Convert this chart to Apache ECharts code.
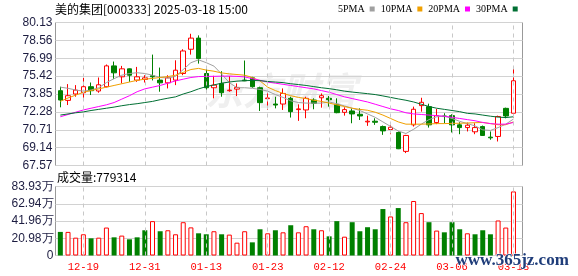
<!DOCTYPE html>
<html>
<head>
<meta charset="utf-8">
<script src="https://cdn.jsdelivr.net/npm/echarts@6/dist/echarts.min.js"></script>
<style>
html,body{margin:0;padding:0;background:#fff;}
#chart{width:578px;height:276px;}
</style>
</head>
<body>
<div id="chart"></div>
<script>
// ---------- data ----------
const dates = ['12-16','12-17','12-18','12-19','12-20','12-23','12-24','12-25','12-26','12-27',
  '12-30','12-31','01-02','01-03','01-06','01-07','01-08','01-09','01-10','01-13',
  '01-14','01-15','01-16','01-17','01-20','01-21','01-22','01-23','01-24','01-27',
  '02-05','02-06','02-07','02-10','02-11','02-12','02-13','02-14','02-17','02-18',
  '02-19','02-20','02-21','02-24','02-25','02-26','02-27','02-28','03-03','03-04',
  '03-05','03-06','03-07','03-10','03-11','03-12','03-13','03-14','03-17','03-18'];

const opens = [74.14,73.29,73.85,73.96,74.49,74.11,74.49,76.32,75.36,76.06,
  75.07,75.13,75.45,75.07,74.83,75.07,75.65,77.78,78.76,75.65,
  74.40,74.78,74.14,74.28,75.07,75.27,74.40,73.44,72.97,72.97,
  73.47,72.48,72.45,73.32,73.52,73.47,72.94,72.24,72.36,72.07,
  71.40,71.46,70.99,70.73,70.47,68.81,71.14,72.83,72.74,71.34,
  71.92,71.95,71.14,70.90,70.53,70.99,70.06,70.12,72.59,72.16];
const closes = [73.32,73.70,74.19,74.49,74.14,74.66,76.32,75.71,76.06,75.50,
  75.36,75.27,75.36,74.83,75.27,75.94,77.63,78.76,76.96,74.40,
  74.63,73.96,74.19,74.43,75.01,74.49,73.09,73.50,72.88,73.90,
  72.30,72.54,73.47,73.03,73.70,73.35,72.21,72.48,72.10,71.92,
  71.46,71.37,70.61,70.93,69.04,70.21,72.51,73.12,71.14,71.95,
  71.87,71.14,70.90,71.11,70.90,70.21,70.00,71.87,71.92,75.01];
const lows = [72.68,72.88,73.61,73.32,73.76,73.96,74.43,75.16,74.78,74.92,
  74.92,74.86,75.04,74.05,74.34,74.63,75.50,77.31,76.52,73.99,
  73.47,73.61,74.05,73.67,74.98,74.40,72.36,72.45,72.59,72.45,
  71.78,71.49,71.72,72.51,72.65,72.74,72.16,71.95,71.28,71.57,
  71.05,71.14,70.26,70.32,69.01,68.66,70.99,72.30,70.90,71.20,
  71.28,70.47,70.32,70.56,70.32,70.18,69.83,69.68,71.72,71.78];
const highs = [74.49,74.72,74.63,75.27,74.86,75.30,76.44,76.70,76.32,76.09,
  76.23,75.50,77.31,76.17,75.50,76.81,77.78,79.14,79.00,76.03,
  75.45,75.85,75.42,74.78,76.79,75.36,74.49,74.05,73.61,74.34,
  73.61,72.94,73.61,73.47,73.90,73.67,73.47,72.68,72.59,72.59,
  71.95,71.72,71.08,71.28,70.56,70.26,72.74,73.52,73.00,72.54,
  72.16,72.07,71.37,71.34,71.28,71.08,70.56,71.95,72.65,76.14];

// volume in 万 (10k) hands
const volumes = [28.7,28.7,21.7,25.8,20.9,21.7,34.0,22.1,24.2,19.7,
  22.1,30.7,41.8,29.5,30.7,25.8,40.5,34.2,27.0,25.8,
  29.5,25.8,25.4,15.6,29.5,16.0,31.9,27.0,30.7,28.2,
  36.8,28.2,35.6,31.9,30.7,23.3,41.8,22.9,40.5,29.5,
  34.4,31.9,56.5,47.5,57.7,40.5,66.3,51.6,40.5,30.3,
  28.2,40.5,31.9,27.0,25.8,30.7,25.8,42.6,34.0,77.93];

const ma5 = [74.45,74.35,74.20,74.10,74.20,74.40,74.85,75.20,75.50,75.65,
  75.72,75.65,75.50,75.30,75.25,75.40,76.00,76.60,76.85,76.60,
  76.30,75.60,74.85,74.40,74.40,74.35,74.25,74.10,73.80,73.55,
  73.25,73.10,73.05,73.05,73.05,73.15,73.00,72.80,72.60,72.40,
  72.10,71.80,71.40,71.00,70.60,70.38,70.75,71.20,71.60,71.85,
  71.90,71.70,71.45,71.25,71.05,70.70,70.65,70.90,71.20,71.65];
const ma10 = [73.20,73.50,73.75,74.00,74.15,74.30,74.45,74.60,74.75,74.90,
  75.05,75.15,75.22,75.30,75.38,75.50,75.75,76.00,76.10,75.95,
  75.85,75.70,75.62,75.56,75.50,75.30,75.00,74.45,74.15,73.90,
  73.70,73.55,73.45,73.30,73.20,73.05,72.90,72.75,72.60,72.50,
  72.42,72.25,72.00,71.70,71.40,71.20,71.20,71.20,71.22,71.25,
  71.25,71.27,71.28,71.30,71.33,71.35,71.25,71.15,71.15,71.40];
const ma20 = [71.85,72.05,72.25,72.45,72.60,72.75,72.90,73.10,73.40,73.70,
  74.05,74.30,74.45,74.60,74.80,75.00,75.15,75.30,75.38,75.40,
  75.40,75.42,75.42,75.40,75.35,75.20,75.05,74.90,74.80,74.70,
  74.60,74.50,74.40,74.30,74.15,74.00,73.80,73.60,73.45,73.30,
  73.15,72.95,72.75,72.55,72.40,72.20,72.10,72.05,72.00,71.95,
  71.90,71.80,71.70,71.60,71.50,71.35,71.25,71.20,71.20,71.35];
const ma30 = [72.00,72.10,72.20,72.28,72.40,72.50,72.60,72.70,72.82,72.92,
  73.00,73.10,73.20,73.35,73.48,73.60,73.85,74.05,74.30,74.50,
  74.65,74.80,74.90,74.98,75.02,75.04,75.02,74.95,74.90,74.85,
  74.75,74.68,74.60,74.50,74.40,74.32,74.22,74.10,74.02,73.95,
  73.88,73.80,73.68,73.55,73.42,73.30,73.15,72.95,72.75,72.60,
  72.50,72.40,72.30,72.15,72.10,72.00,71.90,71.82,71.78,71.85];

const labelDates = ['12-19','12-31','01-13','01-23','02-12','02-24','03-06','03-18'];
const priceMin = 67.57, priceMax = 80.13, priceStep = 1.57;
const volMax = 83.93, volStep = 20.9825;
const volTickLabels = ['0','20.98万','41.96万','62.94万','83.93万'];

// ---------- build options ----------
const BASE = priceMin; // axis counted from 0 so ticks align with the interval
const off = v => +(v - BASE).toFixed(4);
const candleData = dates.map((d, i) => [off(opens[i]), off(closes[i]), off(lows[i]), off(highs[i])]);
const maData = arr => arr.map(off);

const UP = '#ff0000', DOWN = '#008000';
const volData = volumes.map((v, i) => {
  const up = i === 0 ? closes[0] > opens[0] : closes[i] > closes[i - 1];
  return {
    value: v,
    itemStyle: up ? {color: '#ffffff', borderColor: UP, borderWidth: 1}
                  : {color: DOWN, borderColor: DOWN, borderWidth: 0}
  };
});

const vLines = {
  silent: true,
  symbol: ['none', 'none'],
  label: {show: false},
  lineStyle: {color: '#c8c8c8', type: [4, 4], width: 1},
  emphasis: {disabled: true},
  animation: false,
  data: labelDates.map(d => ({xAxis: d}))
};

const labelColor = '#1c1c40';
const frameColor = '#999999';

const option = {
  animation: false,
  backgroundColor: '#ffffff',
  title: [
    {text: '美的集团[000333] 2025-03-18 15:00', left: 55, top: 3, padding: 0,
     textStyle: {fontSize: 12, fontWeight: 'normal', color: '#000', fontFamily: 'Noto Sans CJK SC'}},
    {text: '成交量:779314', left: 57, top: 171, padding: 0,
     textStyle: {fontSize: 12, fontWeight: 'normal', color: '#000', fontFamily: 'Noto Sans CJK SC'}}
  ],
  legend: {
    data: ['5PMA', '10PMA', '20PMA', '30PMA'],
    left: 338, top: 4, padding: 0,
    align: 'right',
    icon: 'rect',
    itemWidth: 5, itemHeight: 5, itemGap: 6,
    textStyle: {fontSize: 10, color: '#000', fontFamily: 'Liberation Serif'}
  },
  graphic: [
    {type: 'text', left: 205, top: 72, z: -1, silent: true,
     style: {text: '东方财富', fontSize: 38, fontWeight: 'bold', fontStyle: 'italic',
             fill: '#efefef', fontFamily: 'Noto Sans CJK SC'}},
    {type: 'text', left: 455, top: 252, z: 100, silent: true,
     style: {text: 'www.365jz.com', fontSize: 17, fontWeight: 'bold',
             fill: '#1f3d7a', fontFamily: 'Liberation Serif', stroke: '#ffffff', lineWidth: 1}}
  ],
  grid: [
    {left: 55.5, top: 22.5, width: 467, height: 143, show: true, borderColor: frameColor, borderWidth: 1, backgroundColor: 'rgba(0,0,0,0)'},
    {left: 56.5, top: 22.5, width: 460.8, height: 143, show: false},
    {left: 55.5, top: 186.5, width: 467, height: 69, show: true, borderColor: frameColor, borderWidth: 1, backgroundColor: 'rgba(0,0,0,0)'},
    {left: 56.5, top: 186.5, width: 460.8, height: 69, show: false}
  ],
  xAxis: [
    {type: 'value', gridIndex: 0, min: 0, max: 1, show: false},
    {type: 'category', gridIndex: 1, data: dates, boundaryGap: true,
     axisLine: {show: false}, axisTick: {show: false}, axisLabel: {show: false}, splitLine: {show: false}},
    {type: 'value', gridIndex: 2, min: 0, max: 1, show: false},
    {type: 'category', gridIndex: 3, data: dates, boundaryGap: true,
     axisLine: {show: false}, axisTick: {show: false}, splitLine: {show: false},
     axisLabel: {
       show: true, color: '#ff0000', fontSize: 10.5, fontFamily: 'Liberation Mono', margin: 6,
       interval: (idx, val) => labelDates.indexOf(val) >= 0
     }}
  ],
  yAxis: [
    {type: 'value', gridIndex: 0, min: 0, max: priceMax - priceMin, interval: priceStep,
     axisLine: {show: false}, axisTick: {show: false},
     axisLabel: {color: labelColor, fontSize: 12, fontFamily: 'Liberation Sans', margin: 3,
                 formatter: v => (v + BASE).toFixed(2)},
     splitLine: {show: true, lineStyle: {color: '#d2d2d2', width: 1}}},
    {type: 'value', gridIndex: 1, min: 0, max: priceMax - priceMin, show: false},
    {type: 'value', gridIndex: 2, min: 0, max: volMax, interval: volStep,
     axisLine: {show: false}, axisTick: {show: false},
     axisLabel: {color: labelColor, fontSize: 12, fontFamily: 'Liberation Sans', margin: 2,
                 formatter: v => volTickLabels[Math.round(v / volStep)] || ''},
     splitLine: {show: true, lineStyle: {color: '#d2d2d2', width: 1}}},
    {type: 'value', gridIndex: 3, min: 0, max: volMax, show: false}
  ],
  series: [
    {type: 'candlestick', name: 'K', xAxisIndex: 1, yAxisIndex: 1, data: candleData,
     barWidth: 5, z: 2,
     itemStyle: {color: '#ffffff', color0: DOWN, borderColor: UP, borderColor0: DOWN, borderWidth: 1},
     markLine: vLines},
    {type: 'line', name: '5PMA', xAxisIndex: 1, yAxisIndex: 1, data: maData(ma5), symbol: 'none',
     z: 3, lineStyle: {width: 1, color: '#a0a0a0'}, itemStyle: {color: '#a0a0a0'}},
    {type: 'line', name: '10PMA', xAxisIndex: 1, yAxisIndex: 1, data: maData(ma10), symbol: 'none',
     z: 3, lineStyle: {width: 1, color: '#f0a000'}, itemStyle: {color: '#f0a000'}},
    {type: 'line', name: '20PMA', xAxisIndex: 1, yAxisIndex: 1, data: maData(ma20), symbol: 'none',
     z: 3, lineStyle: {width: 1, color: '#ff00ff'}, itemStyle: {color: '#ff00ff'}},
    {type: 'line', name: '30PMA', xAxisIndex: 1, yAxisIndex: 1, data: maData(ma30), symbol: 'none',
     z: 3, lineStyle: {width: 1, color: '#006f33'}, itemStyle: {color: '#006f33'}},
    {type: 'bar', name: 'VOL', xAxisIndex: 3, yAxisIndex: 3, data: volData, barWidth: 5, z: 2,
     markLine: vLines}
  ]
};

const chart = echarts.init(document.getElementById('chart'), null, {renderer: 'canvas'});
chart.setOption(option);
</script>
</body>
</html>
